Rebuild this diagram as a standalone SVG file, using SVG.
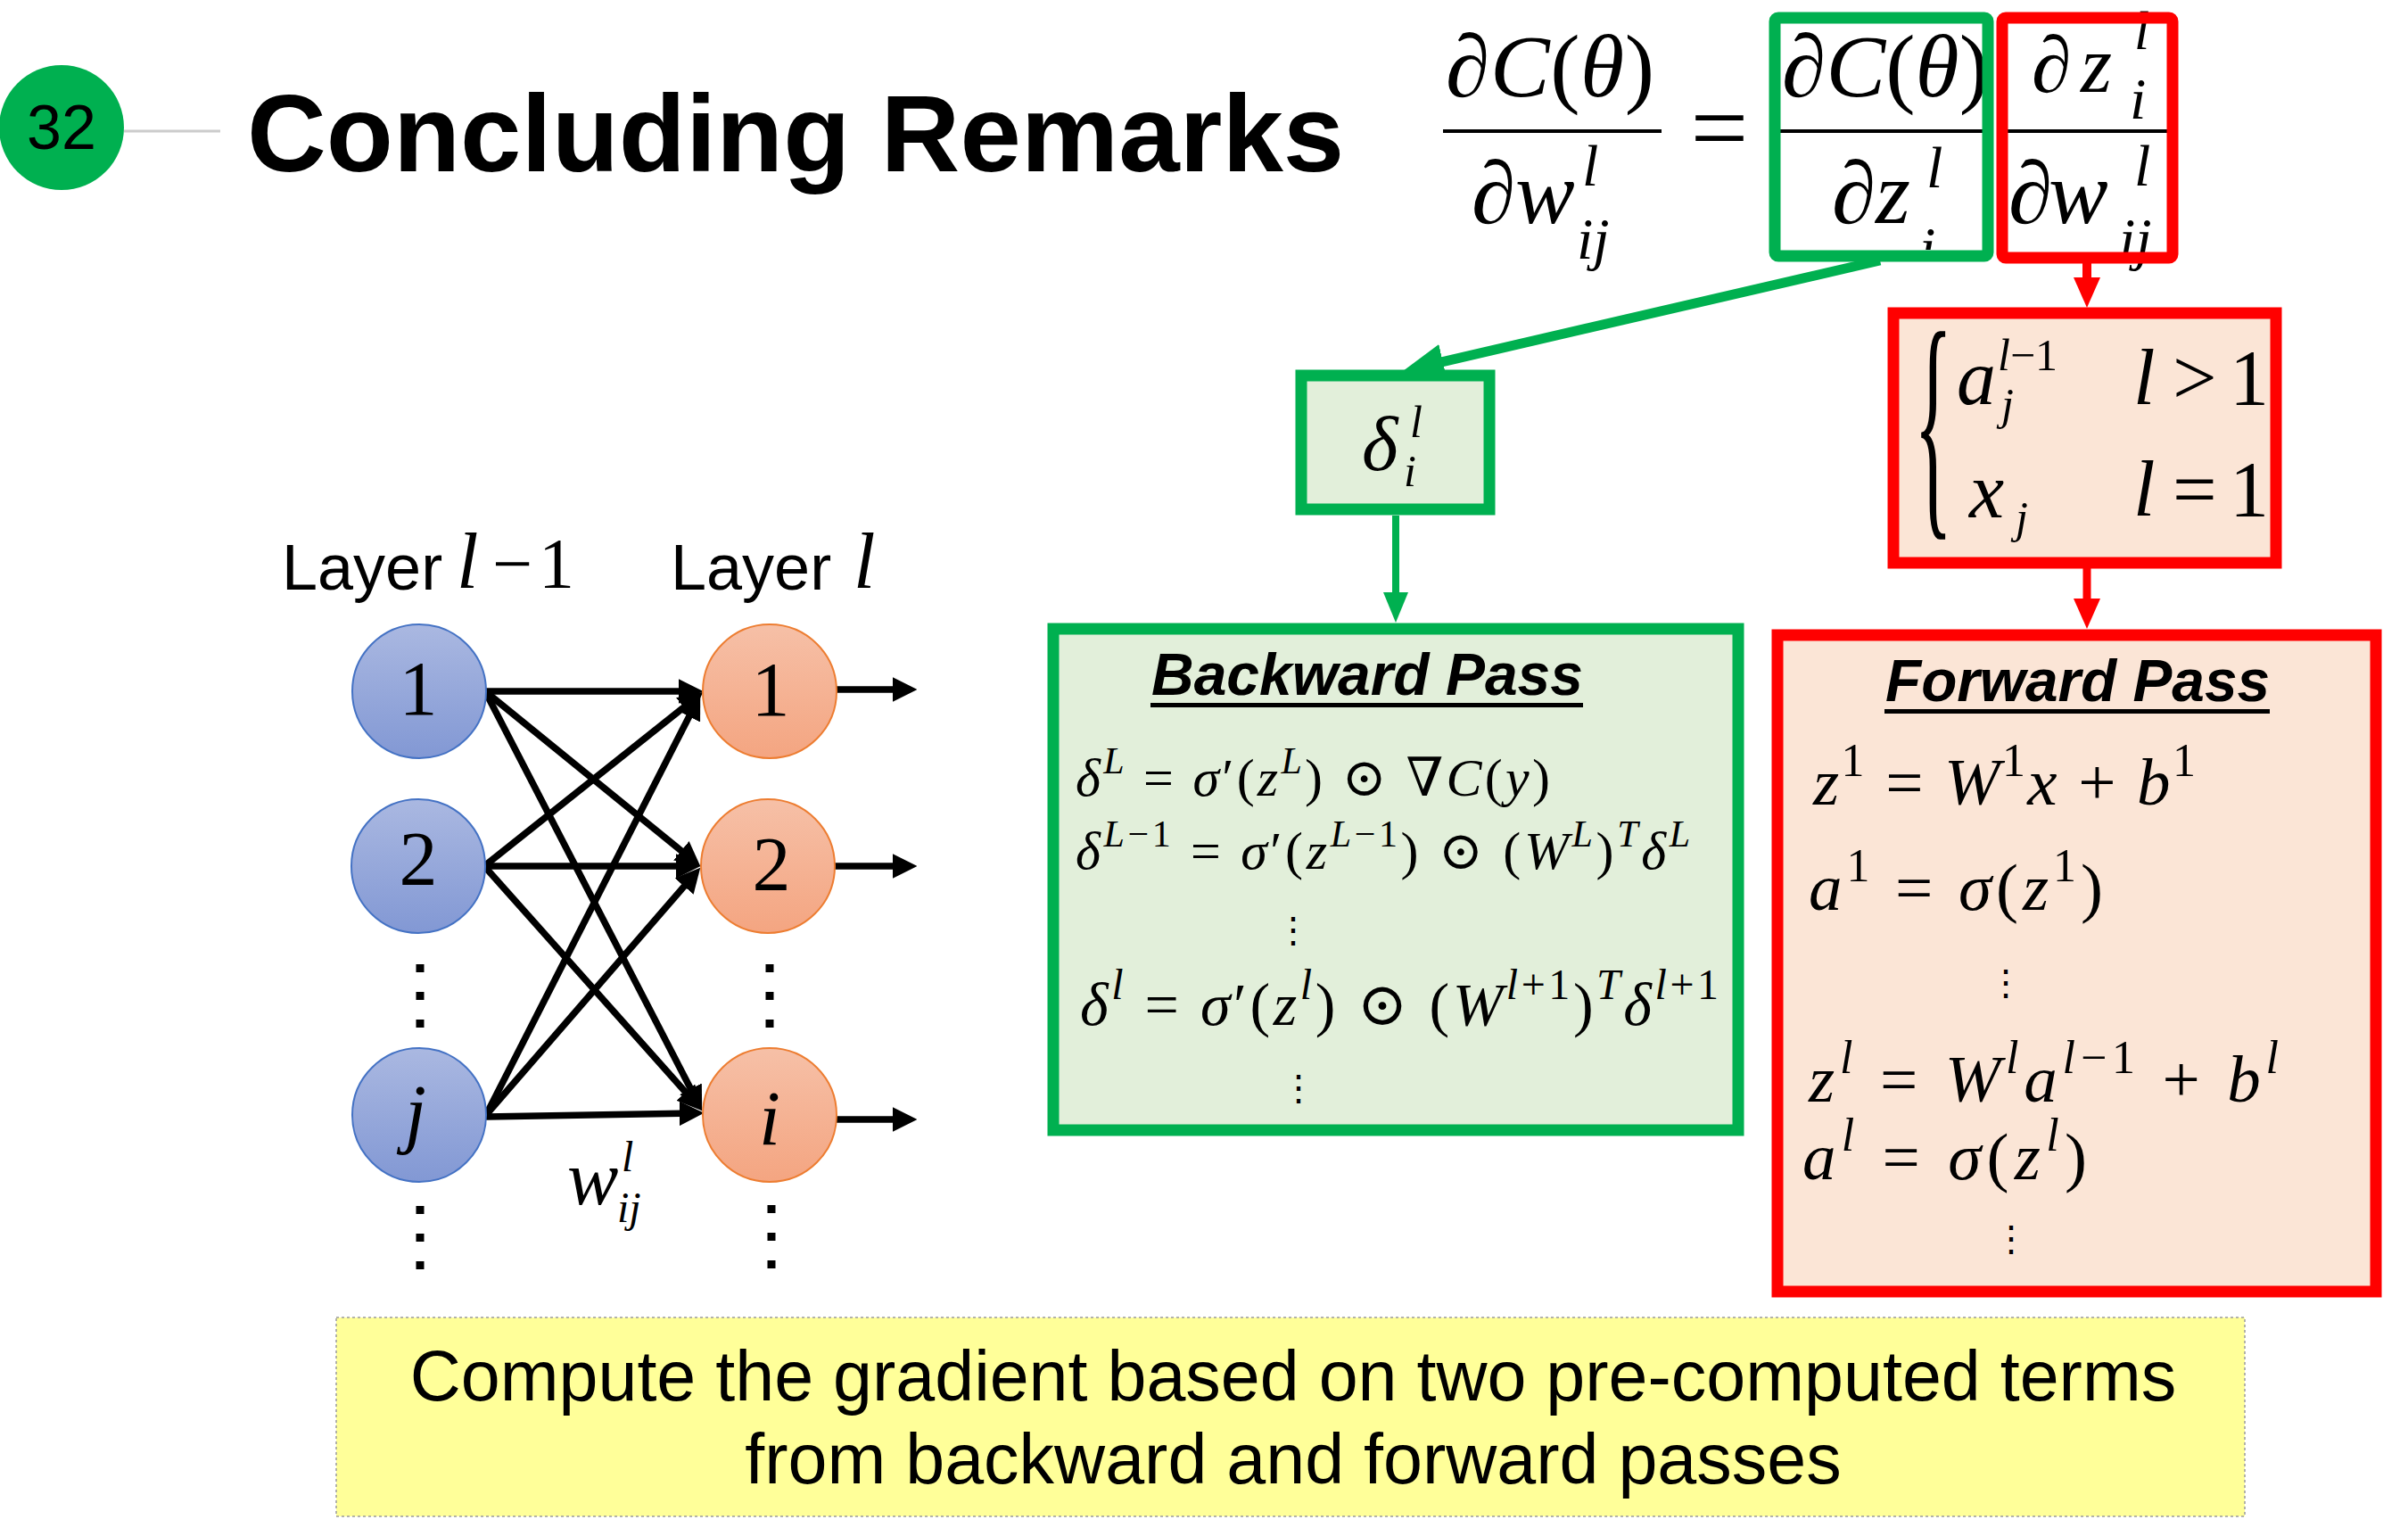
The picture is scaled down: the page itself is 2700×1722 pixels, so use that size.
<svg xmlns="http://www.w3.org/2000/svg" width="2700" height="1722" viewBox="0 0 2700 1722">
  <style>
    .sans { font-family: "Liberation Sans", Arial, sans-serif; fill: #000; }
    .m { font-family: "Liberation Serif", "DejaVu Serif", serif; fill: #000; }
    .i { font-style: italic; }
    .edge { stroke: #000; stroke-width: 7.5; fill: none; marker-end: url(#ah); }
    .dots { stroke: #000; stroke-width: 9; stroke-dasharray: 9 22; }
    .blue { fill: url(#gBlue); stroke: #4472c4; stroke-width: 2; }
    .orange { fill: url(#gOrange); stroke: #ed7d31; stroke-width: 2; }
    .gbox { fill: #e2efda; stroke: #00b050; stroke-width: 13; }
    .rbox { fill: #fbe5d6; stroke: #ff0000; stroke-width: 13; }
    .frac { stroke: #000; stroke-width: 4; }
  </style>
  <defs>
    <linearGradient id="gBlue" x1="0" y1="0" x2="0" y2="1">
      <stop offset="0" stop-color="#aab8e1"/>
      <stop offset="1" stop-color="#8298d4"/>
    </linearGradient>
    <linearGradient id="gOrange" x1="0" y1="0" x2="0" y2="1">
      <stop offset="0" stop-color="#f6c0a7"/>
      <stop offset="1" stop-color="#f4a581"/>
    </linearGradient>
    <marker id="ah" viewBox="0 0 10 10" refX="5.5" refY="5" markerWidth="3.7" markerHeight="3.7" orient="auto">
      <path d="M0,0 L10,5 L0,10 z" fill="#000"/>
    </marker>
    <marker id="ghBig" viewBox="0 0 46 40" refX="30" refY="20" markerWidth="46" markerHeight="40" markerUnits="userSpaceOnUse" orient="auto">
      <path d="M0,0 L46,20 L0,40 z" fill="#00b050"/>
    </marker>
    <marker id="gh" viewBox="0 0 34 28" refX="22" refY="14" markerWidth="34" markerHeight="28" markerUnits="userSpaceOnUse" orient="auto">
      <path d="M0,0 L34,14 L0,28 z" fill="#00b050"/>
    </marker>
    <marker id="rh" viewBox="0 0 34 30" refX="22" refY="15" markerWidth="34" markerHeight="30" markerUnits="userSpaceOnUse" orient="auto">
      <path d="M0,0 L34,15 L0,30 z" fill="#ff0000"/>
    </marker>
    <clipPath id="clipGreenDen">
      <rect x="1990" y="150" width="240" height="130"/>
    </clipPath>
  </defs>

  <rect width="2700" height="1722" fill="#fff"/>

  <!-- slide number badge and title -->
  <g id="badge">
    <line x1="139" y1="147" x2="247" y2="147" stroke="#cccccc" stroke-width="3"/>
    <circle cx="69" cy="143" r="70" fill="#00b050"/>
    <text class="sans" x="69" y="167" font-size="70" text-anchor="middle">32</text>
  </g>
  <g id="title">
    <text class="sans" x="277" y="192" font-size="123" font-weight="bold">Concluding Remarks</text>
  </g>

  <!-- chain rule: dC/dw = dC/dz * dz/dw -->
  <g id="eq-main">
    <text class="m" x="1621" y="108" font-size="100" textLength="234" lengthAdjust="spacing">∂<tspan class="i">C</tspan>(<tspan class="i">θ</tspan>)</text>
    <line class="frac" x1="1618" y1="147" x2="1863" y2="147"/>
    <text class="m" x="1650" y="250" font-size="100">∂<tspan class="i" x="1699">w</tspan></text>
    <text class="m i" x="1774" y="208" font-size="66">l</text>
    <text class="m i" x="1768" y="290" font-size="66">ij</text>
    <text class="m" x="1928" y="182" font-size="115" text-anchor="middle">=</text>

    <text class="m" x="1998" y="108" font-size="100" textLength="232" lengthAdjust="spacing">∂<tspan class="i">C</tspan>(<tspan class="i">θ</tspan>)</text>
    <line class="frac" x1="1996" y1="147" x2="2227" y2="147"/>
    <text class="m" x="2054" y="250" font-size="100">∂<tspan class="i" x="2103">z</tspan></text>
    <text class="m i" x="2160" y="210" font-size="66">l</text>
    <text class="m i" x="2152" y="300" font-size="66" clip-path="url(#clipGreenDen)">i</text>

    <text class="m" x="2278" y="103" font-size="90">∂<tspan class="i" x="2333">z</tspan></text>
    <text class="m i" x="2393" y="55" font-size="62">l</text>
    <text class="m i" x="2388" y="133" font-size="66">i</text>
    <line class="frac" x1="2249" y1="147" x2="2430" y2="147"/>
    <text class="m" x="2252" y="250" font-size="100">∂<tspan class="i" x="2297">w</tspan></text>
    <text class="m i" x="2393" y="208" font-size="66">l</text>
    <text class="m i" x="2376" y="290" font-size="66">ij</text>
  </g>

  <g id="connectors">
    <!-- network weights -->
    <line class="edge" x1="544" y1="775" x2="776" y2="775"/>
    <line class="edge" x1="544" y1="775" x2="775.7" y2="963.4"/>
    <line class="edge" x1="544" y1="775" x2="781.5" y2="1234.3"/>
    <line class="edge" x1="543" y1="971" x2="778.6" y2="783.5"/>
    <line class="edge" x1="543" y1="971" x2="773" y2="971"/>
    <line class="edge" x1="543" y1="971" x2="779" y2="1236"/>
    <line class="edge" x1="545" y1="1250" x2="779.6" y2="789.7"/>
    <line class="edge" x1="545" y1="1250" x2="777.1" y2="982.1"/>
    <line class="edge" x1="545" y1="1252" x2="777" y2="1248"/>
    <!-- outputs of layer l -->
    <line class="edge" x1="938" y1="773" x2="1016" y2="773"/>
    <line class="edge" x1="936" y1="971" x2="1016" y2="971"/>
    <line class="edge" x1="938" y1="1255" x2="1016" y2="1255"/>
    <!-- backward path (green) -->
    <line x1="2108" y1="292" x2="1588.6" y2="412.3" stroke="#00b050" stroke-width="11" marker-end="url(#ghBig)"/>
    <line x1="1565" y1="578" x2="1565" y2="686" stroke="#00b050" stroke-width="8" marker-end="url(#gh)"/>
    <!-- forward path (red) -->
    <line x1="2340" y1="294" x2="2340" y2="333" stroke="#ff0000" stroke-width="10" marker-end="url(#rh)"/>
    <line x1="2340" y1="637" x2="2340" y2="693" stroke="#ff0000" stroke-width="9" marker-end="url(#rh)"/>
  </g>

  <g id="box-dC-dz">
    <rect x="1990" y="20" width="239" height="267" rx="4" fill="none" stroke="#00b050" stroke-width="13"/>
  </g>
  <g id="box-dz-dw">
    <rect x="2245" y="20" width="191" height="269" rx="4" fill="none" stroke="#ff0000" stroke-width="13"/>
  </g>

  <g id="box-delta">
    <rect class="gbox" x="1459" y="421" width="211" height="150"/>
    <text class="m i" x="1527" y="527" font-size="87">δ</text>
    <text class="m i" x="1581" y="490" font-size="50">l</text>
    <text class="m i" x="1574" y="545" font-size="50">i</text>
  </g>

  <g id="box-cases">
    <rect class="rbox" x="2123" y="351" width="429" height="280"/>
    <text class="m" transform="translate(2146,567) scale(0.32,1)" font-size="282">{</text>
    <text class="m i" x="2194" y="453" font-size="88">a</text>
    <text class="m" x="2240" y="415" font-size="50"><tspan class="i">l</tspan>−1</text>
    <text class="m i" x="2244" y="470" font-size="50">j</text>
    <text class="m" x="2392" y="453" font-size="88"><tspan class="i">l</tspan><tspan x="2436">&gt;</tspan><tspan x="2500">1</tspan></text>
    <text class="m i" x="2208" y="580" font-size="88">x</text>
    <text class="m i" x="2260" y="597" font-size="50">j</text>
    <text class="m" x="2392" y="578" font-size="88"><tspan class="i">l</tspan><tspan x="2436">=</tspan><tspan x="2500">1</tspan></text>
  </g>

  <g id="box-backward">
    <rect class="gbox" x="1181" y="705" width="768" height="562"/>
    <text class="sans" x="1291" y="779" font-size="66" font-weight="bold" font-style="italic" textLength="484" lengthAdjust="spacingAndGlyphs">Backward Pass</text>
    <rect x="1290" y="788" width="485" height="5" fill="#000"/>
    <text class="m" x="1206" y="892" font-size="60" textLength="532" lengthAdjust="spacing"><tspan class="i">δ</tspan><tspan class="i" font-size="42" dy="-25">L</tspan><tspan dy="25"> = </tspan><tspan class="i">σ</tspan>′(<tspan class="i">z</tspan><tspan class="i" font-size="42" dy="-25">L</tspan><tspan dy="25">) ⊙ ∇</tspan><tspan class="i">C</tspan>(<tspan class="i">y</tspan>)</text>
    <text class="m" x="1206" y="974" font-size="60" textLength="689" lengthAdjust="spacing"><tspan class="i">δ</tspan><tspan font-size="42" dy="-25"><tspan class="i">L</tspan>−1</tspan><tspan dy="25"> = </tspan><tspan class="i">σ</tspan>′(<tspan class="i">z</tspan><tspan font-size="42" dy="-25"><tspan class="i">L</tspan>−1</tspan><tspan dy="25">) ⊙ (</tspan><tspan class="i">W</tspan><tspan class="i" font-size="42" dy="-25">L</tspan><tspan dy="25">)</tspan><tspan class="i" font-size="42" dy="-25">T</tspan><tspan class="i" dy="25">δ</tspan><tspan class="i" font-size="42" dy="-25">L</tspan></text>
    <text class="m" x="1450" y="1056" font-size="40" text-anchor="middle">⋮</text>
    <text class="m" x="1211" y="1149" font-size="68" textLength="716" lengthAdjust="spacing"><tspan class="i">δ</tspan><tspan class="i" font-size="48" dy="-29">l</tspan><tspan dy="29"> = </tspan><tspan class="i">σ</tspan>′(<tspan class="i">z</tspan><tspan class="i" font-size="48" dy="-29">l</tspan><tspan dy="29">) ⊙ (</tspan><tspan class="i">W</tspan><tspan font-size="48" dy="-29"><tspan class="i">l</tspan>+1</tspan><tspan dy="29">)</tspan><tspan class="i" font-size="48" dy="-29">T</tspan><tspan class="i" dy="29">δ</tspan><tspan font-size="48" dy="-29"><tspan class="i">l</tspan>+1</tspan></text>
    <text class="m" x="1456" y="1233" font-size="40" text-anchor="middle">⋮</text>
  </g>

  <g id="box-forward">
    <rect class="rbox" x="1993" y="712" width="671" height="736"/>
    <text class="sans" x="2114" y="786" font-size="66" font-weight="bold" font-style="italic" textLength="431" lengthAdjust="spacingAndGlyphs">Forward Pass</text>
    <rect x="2113" y="795" width="432" height="5" fill="#000"/>
    <text class="m" x="2033" y="902" font-size="75" textLength="429" lengthAdjust="spacing"><tspan class="i">z</tspan><tspan font-size="52" dy="-32">1</tspan><tspan dy="32"> = </tspan><tspan class="i">W</tspan><tspan font-size="52" dy="-32">1</tspan><tspan class="i" dy="32">x</tspan> + <tspan class="i">b</tspan><tspan font-size="52" dy="-32">1</tspan></text>
    <text class="m" x="2028" y="1020" font-size="75" textLength="330" lengthAdjust="spacing"><tspan class="i">a</tspan><tspan font-size="52" dy="-32">1</tspan><tspan dy="32"> = </tspan><tspan class="i">σ</tspan>(<tspan class="i">z</tspan><tspan font-size="52" dy="-32">1</tspan><tspan dy="32">)</tspan></text>
    <text class="m" x="2249" y="1115" font-size="40" text-anchor="middle">⋮</text>
    <text class="m" x="2028" y="1235" font-size="75" textLength="527" lengthAdjust="spacing"><tspan class="i">z</tspan><tspan class="i" font-size="52" dy="-32">l</tspan><tspan dy="32"> = </tspan><tspan class="i">W</tspan><tspan class="i" font-size="52" dy="-32">l</tspan><tspan class="i" dy="32">a</tspan><tspan font-size="52" dy="-32"><tspan class="i">l</tspan>−1</tspan><tspan dy="32"> + </tspan><tspan class="i">b</tspan><tspan class="i" font-size="52" dy="-32">l</tspan></text>
    <text class="m" x="2021" y="1322" font-size="75" textLength="319" lengthAdjust="spacing"><tspan class="i">a</tspan><tspan class="i" font-size="52" dy="-32">l</tspan><tspan dy="32"> = </tspan><tspan class="i">σ</tspan>(<tspan class="i">z</tspan><tspan class="i" font-size="52" dy="-32">l</tspan><tspan dy="32">)</tspan></text>
    <text class="m" x="2255" y="1402" font-size="40" text-anchor="middle">⋮</text>
  </g>

  <!-- two-layer network -->
  <g id="layer-labels">
    <text class="sans" x="316" y="661" font-size="72">Layer</text>
    <text class="m i" x="512" y="659" font-size="88">l</text>
    <text class="m" x="552" y="659" font-size="80">−</text>
    <text class="m" x="604" y="659" font-size="80">1</text>
    <text class="sans" x="752" y="661" font-size="72">Layer</text>
    <text class="m i" x="957" y="659" font-size="88">l</text>
  </g>
  <g id="node-prev-1">
    <circle class="blue" cx="470" cy="775" r="75"/>
    <text class="m" x="469" y="801" font-size="86" text-anchor="middle">1</text>
  </g>
  <g id="node-prev-2">
    <circle class="blue" cx="469" cy="971" r="75"/>
    <text class="m" x="469" y="992" font-size="86" text-anchor="middle">2</text>
  </g>
  <g id="node-prev-j">
    <circle class="blue" cx="470" cy="1250" r="75"/>
    <text class="m i" x="466" y="1276" font-size="86" text-anchor="middle">j</text>
  </g>
  <g id="node-cur-1">
    <circle class="orange" cx="863" cy="775" r="75"/>
    <text class="m" x="864" y="802" font-size="86" text-anchor="middle">1</text>
  </g>
  <g id="node-cur-2">
    <circle class="orange" cx="861" cy="971" r="75"/>
    <text class="m" x="865" y="998" font-size="86" text-anchor="middle">2</text>
  </g>
  <g id="node-cur-i">
    <circle class="orange" cx="863" cy="1250" r="75"/>
    <text class="m i" x="863" y="1283" font-size="86" text-anchor="middle">i</text>
  </g>
  <g id="ellipses">
    <line class="dots" x1="471" y1="1081" x2="471" y2="1152"/>
    <line class="dots" x1="471" y1="1352" x2="471" y2="1423"/>
    <line class="dots" x1="863" y1="1081" x2="863" y2="1152"/>
    <line class="dots" x1="865" y1="1351" x2="865" y2="1422"/>
  </g>
  <g id="weight-label">
    <text class="m i" x="636" y="1350" font-size="86">w</text>
    <text class="m i" x="697" y="1313" font-size="48">l</text>
    <text class="m i" x="692" y="1370" font-size="48">ij</text>
  </g>

  <g id="summary">
    <rect x="377" y="1477" width="2140" height="223" fill="#ffff99" stroke="#9a9a9a" stroke-width="1.5" stroke-dasharray="3 3"/>
    <text class="sans" x="1450" y="1570" font-size="79" text-anchor="middle">Compute the gradient based on two pre-computed terms</text>
    <text class="sans" x="1450" y="1663" font-size="79" text-anchor="middle">from backward and forward passes</text>
  </g>
</svg>
